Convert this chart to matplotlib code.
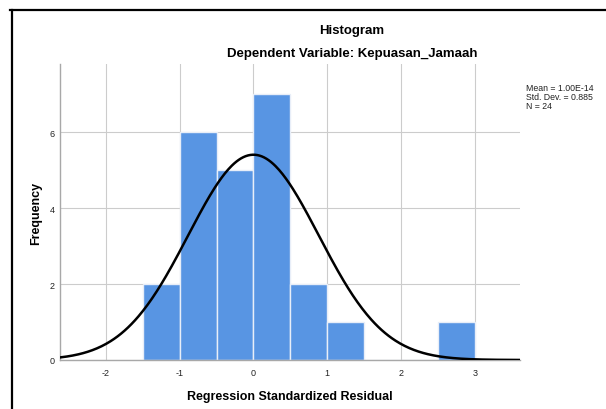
import numpy as np
import matplotlib
matplotlib.use("Agg")
import matplotlib.pyplot as plt
from matplotlib.lines import Line2D

# Data
bin_edges = [-1.5, -1.0, -0.5, 0.0, 0.5, 1.0, 1.5, 2.0, 2.5, 3.0]
counts = [2, 6, 5, 7, 2, 1, 0, 0, 1]
mean_val = 1.00e-14
std_dev = 0.885
n_obs = 24
x_ticks = [-2, -1, 0, 1, 2, 3]
y_ticks = [0, 2, 4, 6]

plt.rcParams['font.family'] = ['Liberation Sans', 'DejaVu Sans']

W, H = 606, 410
fig = plt.figure(figsize=(W / 100, H / 100), dpi=100)
ax = fig.add_axes([60 / W, 1 - 361 / H, (520 - 60) / W, (361 - 65) / H])

bar_color = '#5895e3'
lefts = bin_edges[:-1]
widths = np.diff(bin_edges)
ax.bar(lefts, counts, width=widths, align='edge', color=bar_color,
       edgecolor='#e8eef8', linewidth=1.0, zorder=2)

xlim = (-2.62, 3.61)
xs = np.linspace(xlim[0], xlim[1], 400)
binw = widths[0]
ys = n_obs * binw / (std_dev * np.sqrt(2 * np.pi)) * np.exp(-0.5 * ((xs - mean_val) / std_dev) ** 2)
ax.plot(xs, ys, color='black', linewidth=1.8, zorder=3, solid_capstyle='round')

ax.set_xlim(*xlim)
ax.set_ylim(0, 7.8)
ax.set_xticks(x_ticks)
ax.set_yticks(y_ticks)
ax.set_xticklabels([str(t) for t in x_ticks])
ax.set_yticklabels([str(t) for t in y_ticks])
ax.tick_params(axis='x', length=0, labelsize=6.5, colors='#222222', pad=6)
ax.tick_params(axis='y', length=0, labelsize=6.5, colors='#222222', pad=4)
ax.grid(True, color='#cccccc', linewidth=0.8, zorder=0)
ax.set_axisbelow(True)
for s in ['top', 'right']:
    ax.spines[s].set_visible(False)
for s in ['left', 'bottom']:
    ax.spines[s].set_color('#a8a8a8')
    ax.spines[s].set_linewidth(1.0)

ax.set_xlabel('Regression Standardized Residual', fontsize=9, fontweight='bold', labelpad=9)
ax.set_ylabel('Frequency', fontsize=9, fontweight='bold', labelpad=5)

fig.text(352 / W, 1 - 31 / H, 'Histogram', ha='center', va='center', fontsize=9.5, fontweight='bold')
fig.text(352 / W, 1 - 54 / H, 'Dependent Variable: Kepuasan_Jamaah', ha='center', va='center',
         fontsize=9.5, fontweight='bold')

fig.text(526 / W, 1 - 84 / H, 'Mean = 1.00E-14\nStd. Dev. = 0.885\nN = 24', ha='left', va='top',
         fontsize=6.3, color='#222222', linespacing=1.0)

# outer frame (top and left edges)
fig.add_artist(Line2D([10 / W, 1.0], [1 - 11 / H, 1 - 11 / H], transform=fig.transFigure,
                      color='black', linewidth=1.6))
fig.add_artist(Line2D([12 / W, 12 / W], [0, 1 - 11 / H], transform=fig.transFigure,
                      color='black', linewidth=1.6))

fig.savefig('out.png', dpi=100)
